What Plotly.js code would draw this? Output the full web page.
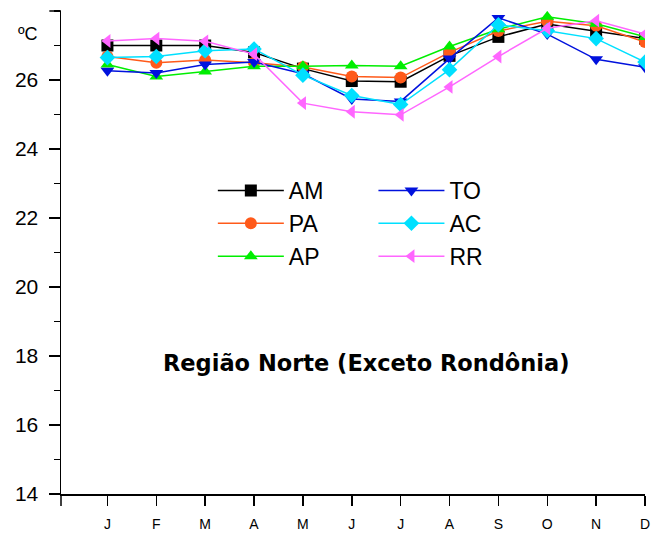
<!DOCTYPE html>
<html>
<head>
<meta charset="utf-8">
<script src="https://cdn.plot.ly/plotly-3.0.1.min.js"></script>
<style>html,body{margin:0;padding:0;background:#fff;}#chart{width:661px;height:534px;}</style>
</head>
<body>
<div id="chart"></div>
<script>
const months = [1,2,3,4,5,6,7,8,9,10,11,12];
const monthLabels = ['J','F','M','A','M','J','J','A','S','O','N','D'];
const AM = [27.0, 27.0, 27.0, 26.8, 26.33, 25.97, 25.95, 26.7, 27.25, 27.62, 27.42, 27.2];
const PA = [26.68, 26.5, 26.58, 26.5, 26.38, 26.1, 26.07, 26.8, 27.42, 27.7, 27.57, 27.1];
const AP = [26.45, 26.1, 26.25, 26.4, 26.4, 26.42, 26.4, 26.97, 27.47, 27.83, 27.63, 27.25];
const TO = [26.27, 26.2, 26.45, 26.52, 26.18, 25.45, 25.38, 26.62, 27.8, 27.33, 26.6, 26.37];
const AC = [26.65, 26.68, 26.85, 26.9, 26.14, 25.55, 25.29, 26.3, 27.6, 27.43, 27.2, 26.52];
const RR = [27.13, 27.2, 27.12, 26.75, 25.33, 25.08, 24.99, 25.8, 26.68, 27.5, 27.72, 27.33];
const yTickVals = [14,16,18,20,22,24,26];

const series = [
  {name:'AM', y:AM, color:'#000000', symbol:'square', legend:'legend'},
  {name:'PA', y:PA, color:'#ff5a1a', symbol:'circle', legend:'legend'},
  {name:'AP', y:AP, color:'#00ee00', symbol:'triangle-up', legend:'legend'},
  {name:'TO', y:TO, color:'#0011dd', symbol:'triangle-down', legend:'legend2'},
  {name:'AC', y:AC, color:'#00e0ff', symbol:'diamond', legend:'legend2'},
  {name:'RR', y:RR, color:'#ff66ff', symbol:'triangle-left', legend:'legend2'}
];

const traces = series.map(s => ({
  type:'scatter', mode:'lines+markers', name:s.name, x:months, y:s.y,
  legend:s.legend,
  line:{color:s.color, width:1.5},
  marker:{color:s.color, symbol:s.symbol, size:12}
}));

const font = {family:'"Liberation Sans", Arial, sans-serif', color:'#000'};
const legendCommon = {
  font:Object.assign({}, font, {size:23}),
  bgcolor:'rgba(0,0,0,0)', borderwidth:0, yanchor:'top', xanchor:'left',
  tracegroupgap:0, itemwidth:66
};

const layout = {
  width:661, height:534,
  margin:{l:61, r:16, t:11, b:40},
  paper_bgcolor:'#fff', plot_bgcolor:'#fff',
  font:font,
  showlegend:true,
  legend:Object.assign({}, legendCommon, {x:0.26, y:0.673}),
  legend2:Object.assign({}, legendCommon, {x:0.535, y:0.673}),
  xaxis:{
    range:[0.05, 12], tickvals:months, ticktext:monthLabels,
    showgrid:false, zeroline:false, showline:true, linecolor:'#000', linewidth:1.5,
    ticks:'outside', ticklen:10, tickwidth:1.5, tickcolor:'#000',
    ticklabelstandoff:7,
    tickfont:Object.assign({}, font, {size:14})
  },
  yaxis:{
    range:[14, 28], tickvals:yTickVals,
    showgrid:false, zeroline:false, showline:true, linecolor:'#000', linewidth:1.5,
    ticks:'outside', ticklen:11, tickwidth:1.5, tickcolor:'#000',
    ticklabelstandoff:6,
    tickfont:Object.assign({}, font, {size:21}),
    minor:{dtick:1, tick0:15, ticks:'outside', ticklen:6, tickwidth:1.5, tickcolor:'#000', showgrid:false}
  },
  shapes:[
    {type:'line', xref:'paper', yref:'paper', x0:0, x1:0, y0:0, y1:-0.025, line:{color:'#000', width:1.5}},
    {type:'line', xref:'paper', yref:'paper', x0:0, x1:-0.02, y0:1, y1:1, line:{color:'#000', width:1.5}}
  ],
  annotations:[
    {text:'Região Norte (Exceto Rondônia)', xref:'paper', yref:'paper', x:0.522, y:0.24,
     showarrow:false, font:{family:'"DejaVu Sans", sans-serif', color:'#000', size:22.5, weight:'bold'}},
    {text:'ºC', xref:'paper', yref:'paper', x:-0.077, y:0.978, showarrow:false,
     font:Object.assign({}, font, {size:18})}
  ]
};

Plotly.newPlot('chart', traces, layout, {displayModeBar:false, staticPlot:true});
</script>
</body>
</html>
